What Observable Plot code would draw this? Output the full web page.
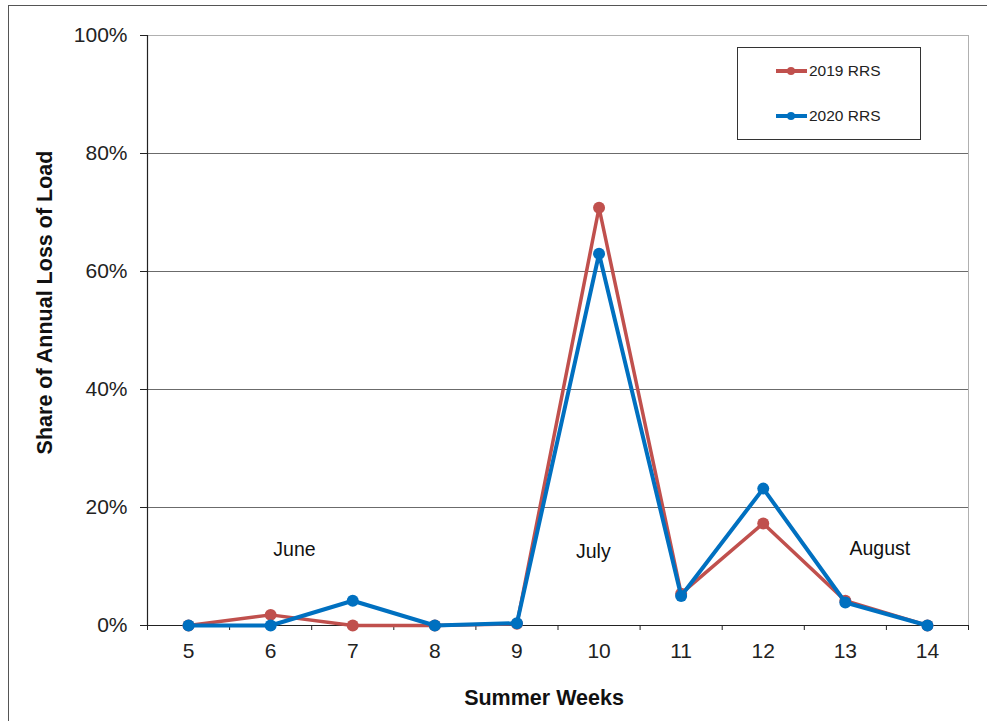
<!DOCTYPE html>
<html>
<head>
<meta charset="utf-8">
<script src="https://cdn.jsdelivr.net/npm/d3@7"></script>
<script src="https://cdn.jsdelivr.net/npm/@observablehq/plot@0.6"></script>
<style>
  html, body { margin: 0; padding: 0; background: #fff; overflow: hidden; }
  body { font-family: "Liberation Sans", Arial, sans-serif; }
  #wrap { position: relative; width: 987px; height: 721px; }
  #frame { position: absolute; left: 8px; top: 5px; width: 1000px; height: 800px; border: 1.5px solid #555; box-sizing: border-box; pointer-events: none; }
  #legend { position: absolute; left: 737px; top: 47px; width: 184px; height: 93px; border: 1px solid #333; box-sizing: border-box; background: #fff; font-size: 15.5px; color: #222; }
  .item { position: absolute; left: 37px; display: flex; align-items: center; }
  .item span { margin-left: 1px; }
</style>
</head>
<body>
<div id="wrap">
  <div id="chart"></div>
  <div id="frame"></div>
  <div id="legend"></div>
</div>
<script>
const weeks = [5, 6, 7, 8, 9, 10, 11, 12, 13, 14];
const rrs2019 = [0, 0.018, 0, 0, 0.003, 0.708, 0.054, 0.173, 0.042, 0];
const rrs2020 = [0, 0, 0.042, 0, 0.004, 0.630, 0.050, 0.232, 0.039, 0];
const seriesNames = ["2019 RRS", "2020 RRS"];
const seriesColors = ["#C0504D", "#0070C0"];
const yTicks = [0, 0.2, 0.4, 0.6, 0.8, 1.0];
const monthLabels = ["June", "July", "August"];
const monthWeek = [6.29, 9.93, 13.42];
const monthShare = [0.129, 0.125, 0.13];

const d2019 = weeks.map((w, i) => ({week: w, share: rrs2019[i]}));
const d2020 = weeks.map((w, i) => ({week: w, share: rrs2020[i]}));
const months = monthLabels.map((m, i) => ({label: m, week: monthWeek[i], share: monthShare[i]}));
const boundaries = d3.range(weeks[0] - 0.5, weeks[weeks.length - 1] + 1, 1);

const chart = Plot.plot({
  width: 987,
  height: 721,
  marginLeft: 147,
  marginRight: 19,
  marginTop: 35,
  marginBottom: 96,
  style: {fontFamily: "'Liberation Sans', Arial, sans-serif", color: "#222", background: "#fff"},
  x: {domain: [weeks[0] - 0.5, weeks[weeks.length - 1] + 0.5]},
  y: {domain: [0, 1]},
  marks: [
    Plot.ruleY(yTicks.slice(1, -1), {stroke: "#6b6b6b", strokeWidth: 1, strokeOpacity: 1}),
    Plot.ruleY([1], {stroke: "#b0b0b0", strokeWidth: 1}),
    Plot.ruleX([boundaries[boundaries.length - 1]], {stroke: "#b0b0b0", strokeWidth: 1}),
    Plot.axisY({ticks: yTicks, tickFormat: d3.format(".0%"), tickSize: 7, tickPadding: 13, fontSize: 21, label: null, stroke: "#222"}),
    Plot.axisX({ticks: weeks, tickFormat: d => String(d), tickSize: 0, tickPadding: 18, fontSize: 21, label: null}),
    Plot.axisX({ticks: boundaries, tickFormat: () => "", tickSize: 5, label: null, stroke: "#222"}),
    Plot.ruleX([boundaries[0]], {stroke: "#222", strokeWidth: 1.2}),
    Plot.ruleY([0], {stroke: "#222", strokeWidth: 1.2}),
    Plot.text(months, {x: "week", y: "share", text: "label", fontSize: 19.5, fill: "#111"}),
    Plot.line(d2019, {x: "week", y: "share", stroke: seriesColors[0], strokeWidth: 3.5}),
    Plot.dot(d2019, {x: "week", y: "share", r: 6, fill: seriesColors[0]}),
    Plot.line(d2020, {x: "week", y: "share", stroke: seriesColors[1], strokeWidth: 4}),
    Plot.dot(d2020, {x: "week", y: "share", r: 6, fill: seriesColors[1]}),
    Plot.text(["Summer Weeks"], {frameAnchor: "bottom", textAnchor: "middle", lineAnchor: "middle", dx: -14, dy: 73, fontSize: 21.5, fontWeight: "bold", fill: "#111"}),
    Plot.text(["Share of Annual Loss of Load"], {frameAnchor: "left", textAnchor: "middle", lineAnchor: "middle", rotate: -90, dx: -102, dy: -28, fontSize: 21.5, fontWeight: "bold", fill: "#111"})
  ]
});
document.getElementById("chart").appendChild(chart);

const legend = document.getElementById("legend");
const tops = [13, 58];
seriesNames.forEach((name, i) => {
  const item = document.createElement("div");
  item.className = "item";
  item.style.top = tops[i] + "px";
  item.innerHTML = `<svg width="33" height="20"><line x1="1" y1="10" x2="32" y2="10" stroke="${seriesColors[i]}" stroke-width="4"/><circle cx="16" cy="10" r="4" fill="${seriesColors[i]}"/></svg><span>${name}</span>`;
  legend.appendChild(item);
});
</script>
</body>
</html>
